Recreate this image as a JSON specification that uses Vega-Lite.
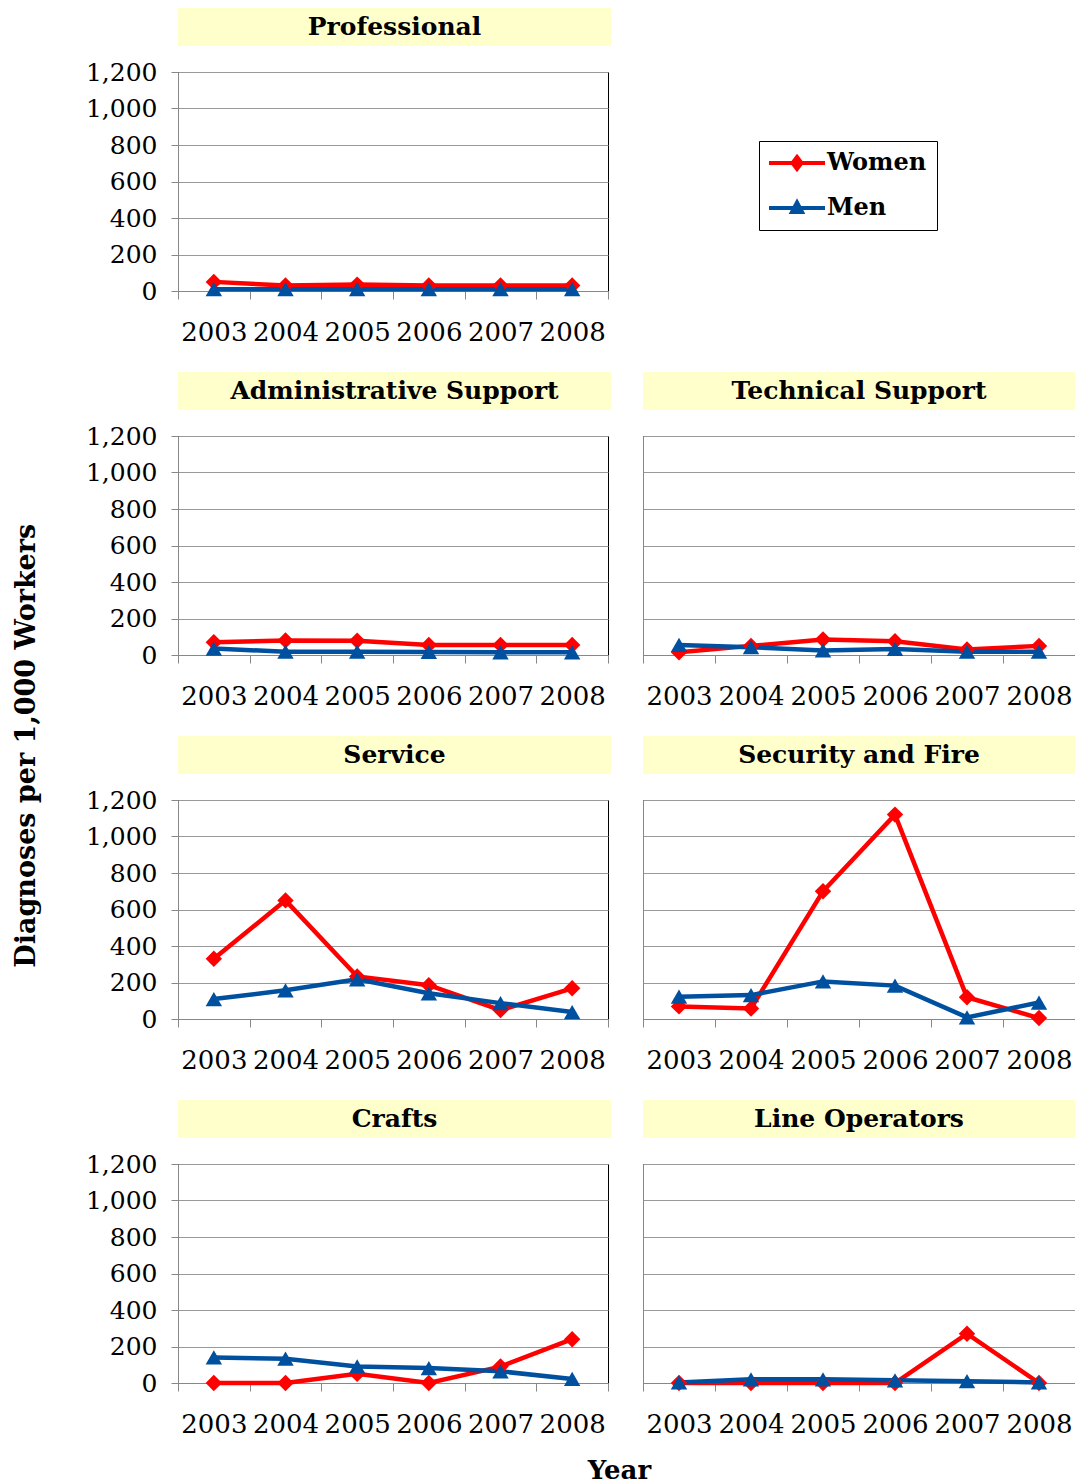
{
  "$schema": "https://vega.github.io/schema/vega-lite/v6.json",
  "padding": {"left": 12, "top": 8, "right": 0, "bottom": 0},
  "background": "white",
  "config": {
    "font": "DejaVu Serif",
    "view": {"stroke": "#000", "strokeWidth": 1},
    "axis": {"labelFont": "DejaVu Serif", "labelFontSize": 25, "labelColor": "#000", "domainColor": "#888", "tickColor": "#888", "gridColor": "#999", "title": null},
    "axisX": {"labelAngle": 0, "tickBand": "extent", "tickSize": 8, "labelPadding": 20, "labelFontSize": 26, "labelOverlap": false, "labelFlush": false},
    "axisY": {"values": [0, 200, 400, 600, 800, 1000, 1200], "format": ",.0f", "tickSize": 7, "labelPadding": 14, "grid": true},
    "title": {"font": "DejaVu Serif", "fontWeight": "bold", "fontSize": 26, "color": "#000"},
    "text": {"font": "DejaVu Serif", "fontWeight": "bold", "fontSize": 25, "baseline": "middle", "align": "center"},
    "point": {"filled": true, "size": 270, "opacity": 1},
    "line": {"strokeWidth": 4.5}
  },
  "datasets": {
    "d": [
      {"p":"Professional","s":"Women","y":"2003","v":50},{"p":"Professional","s":"Women","y":"2004","v":30},{"p":"Professional","s":"Women","y":"2005","v":35},{"p":"Professional","s":"Women","y":"2006","v":30},{"p":"Professional","s":"Women","y":"2007","v":30},{"p":"Professional","s":"Women","y":"2008","v":30},
      {"p":"Professional","s":"Men","y":"2003","v":10},{"p":"Professional","s":"Men","y":"2004","v":10},{"p":"Professional","s":"Men","y":"2005","v":10},{"p":"Professional","s":"Men","y":"2006","v":10},{"p":"Professional","s":"Men","y":"2007","v":10},{"p":"Professional","s":"Men","y":"2008","v":10},
      {"p":"Administrative Support","s":"Women","y":"2003","v":70},{"p":"Administrative Support","s":"Women","y":"2004","v":80},{"p":"Administrative Support","s":"Women","y":"2005","v":78},{"p":"Administrative Support","s":"Women","y":"2006","v":55},{"p":"Administrative Support","s":"Women","y":"2007","v":55},{"p":"Administrative Support","s":"Women","y":"2008","v":55},
      {"p":"Administrative Support","s":"Men","y":"2003","v":35},{"p":"Administrative Support","s":"Men","y":"2004","v":18},{"p":"Administrative Support","s":"Men","y":"2005","v":18},{"p":"Administrative Support","s":"Men","y":"2006","v":17},{"p":"Administrative Support","s":"Men","y":"2007","v":15},{"p":"Administrative Support","s":"Men","y":"2008","v":15},
      {"p":"Technical Support","s":"Women","y":"2003","v":15},{"p":"Technical Support","s":"Women","y":"2004","v":50},{"p":"Technical Support","s":"Women","y":"2005","v":85},{"p":"Technical Support","s":"Women","y":"2006","v":75},{"p":"Technical Support","s":"Women","y":"2007","v":30},{"p":"Technical Support","s":"Women","y":"2008","v":50},
      {"p":"Technical Support","s":"Men","y":"2003","v":55},{"p":"Technical Support","s":"Men","y":"2004","v":43},{"p":"Technical Support","s":"Men","y":"2005","v":25},{"p":"Technical Support","s":"Men","y":"2006","v":33},{"p":"Technical Support","s":"Men","y":"2007","v":18},{"p":"Technical Support","s":"Men","y":"2008","v":18},
      {"p":"Service","s":"Women","y":"2003","v":330},{"p":"Service","s":"Women","y":"2004","v":650},{"p":"Service","s":"Women","y":"2005","v":233},{"p":"Service","s":"Women","y":"2006","v":185},{"p":"Service","s":"Women","y":"2007","v":49},{"p":"Service","s":"Women","y":"2008","v":168},
      {"p":"Service","s":"Men","y":"2003","v":109},{"p":"Service","s":"Men","y":"2004","v":157},{"p":"Service","s":"Men","y":"2005","v":217},{"p":"Service","s":"Men","y":"2006","v":141},{"p":"Service","s":"Men","y":"2007","v":87},{"p":"Service","s":"Men","y":"2008","v":38},
      {"p":"Security and Fire","s":"Women","y":"2003","v":69},{"p":"Security and Fire","s":"Women","y":"2004","v":58},{"p":"Security and Fire","s":"Women","y":"2005","v":700},{"p":"Security and Fire","s":"Women","y":"2006","v":1120},{"p":"Security and Fire","s":"Women","y":"2007","v":119},{"p":"Security and Fire","s":"Women","y":"2008","v":5},
      {"p":"Security and Fire","s":"Men","y":"2003","v":122},{"p":"Security and Fire","s":"Men","y":"2004","v":131},{"p":"Security and Fire","s":"Men","y":"2005","v":206},{"p":"Security and Fire","s":"Men","y":"2006","v":183},{"p":"Security and Fire","s":"Men","y":"2007","v":9},{"p":"Security and Fire","s":"Men","y":"2008","v":90},
      {"p":"Crafts","s":"Women","y":"2003","v":0},{"p":"Crafts","s":"Women","y":"2004","v":0},{"p":"Crafts","s":"Women","y":"2005","v":50},{"p":"Crafts","s":"Women","y":"2006","v":0},{"p":"Crafts","s":"Women","y":"2007","v":90},{"p":"Crafts","s":"Women","y":"2008","v":240},
      {"p":"Crafts","s":"Men","y":"2003","v":140},{"p":"Crafts","s":"Men","y":"2004","v":133},{"p":"Crafts","s":"Men","y":"2005","v":91},{"p":"Crafts","s":"Men","y":"2006","v":82},{"p":"Crafts","s":"Men","y":"2007","v":64},{"p":"Crafts","s":"Men","y":"2008","v":22},
      {"p":"Line Operators","s":"Women","y":"2003","v":0},{"p":"Line Operators","s":"Women","y":"2004","v":0},{"p":"Line Operators","s":"Women","y":"2005","v":0},{"p":"Line Operators","s":"Women","y":"2006","v":0},{"p":"Line Operators","s":"Women","y":"2007","v":270},{"p":"Line Operators","s":"Women","y":"2008","v":0},
      {"p":"Line Operators","s":"Men","y":"2003","v":3},{"p":"Line Operators","s":"Men","y":"2004","v":20},{"p":"Line Operators","s":"Men","y":"2005","v":20},{"p":"Line Operators","s":"Men","y":"2006","v":15},{"p":"Line Operators","s":"Men","y":"2007","v":10},{"p":"Line Operators","s":"Men","y":"2008","v":3}
    ]
  },
  "title": {"text": "Diagnoses per 1,000 Workers", "orient": "left", "anchor": "middle", "offset": 44, "fontSize": 27},
  "vconcat": [
    {
      "title": {"text": "Year", "orient": "bottom", "anchor": "middle", "offset": 20, "dx": 39},
      "spacing": 26,
      "vconcat": [
        {
          "spacing": 26, "bounds": "flush",
          "vconcat": [
            {"width": 433, "height": 38, "view": {"fill": "#FFFFCC", "stroke": null}, "data": {"values": [{"t": "Professional"}]},
             "mark": "text", "encoding": {"text": {"field": "t", "type": "nominal"}}},
            {"width": 430, "height": 219, "data": {"name": "d"}, "transform": [{"filter": "datum.p == 'Professional'"}],
             "encoding": {
               "x": {"field": "y", "type": "ordinal", "scale": {"type": "band", "paddingInner": 0, "paddingOuter": 0}},
               "y": {"field": "v", "type": "quantitative", "scale": {"domain": [0, 1200], "nice": false}},
               "color": {"field": "s", "type": "nominal", "scale": {"domain": ["Women", "Men"], "range": ["#FF0000", "#0050A0"]},
                 "legend": {"orient": "none", "legendX": 581, "legendY": 133, "title": null, "padding": 10, "rowPadding": 17, "strokeColor": "#000", "fillColor": "#fff",
                   "labelFont": "DejaVu Serif", "labelFontWeight": "bold", "labelFontSize": 24, "labelColor": "#000", "symbolSize": 400, "symbolStrokeWidth": 4, "symbolOffset": 16, "labelOffset": 18,
                   "symbolType": "M-2.8,0H2.8M0,-0.6L0.45,0L0,0.6L-0.45,0Z",
                   "encoding": {"symbols": {"shape": {"value": {"expr": "datum.value === 'Men' ? 'M-2.8,0H2.8M0,-0.55L0.5,0.4L-0.5,0.4Z' : 'M-2.8,0H2.8M0,-0.6L0.45,0L0,0.6L-0.45,0Z'"}}, "strokeWidth": {"value": 4}, "opacity": {"value": 1}}}}}
             },
             "layer": [
               {"mark": "line"},
               {"transform": [{"filter": "datum.s == 'Women'"}], "mark": {"type": "point", "shape": "diamond"}},
               {"transform": [{"filter": "datum.s == 'Men'"}], "mark": {"type": "point", "shape": "triangle-up"}}
             ]}
          ]
        },
        {
          "spacing": 31,
          "hconcat": [
            {"spacing": 26, "bounds": "flush", "vconcat": [
              {"width": 433, "height": 38, "view": {"fill": "#FFFFCC", "stroke": null}, "data": {"values": [{"t": "Administrative Support"}]},
               "mark": "text", "encoding": {"text": {"field": "t", "type": "nominal"}}},
              {"width": 430, "height": 219, "data": {"name": "d"}, "transform": [{"filter": "datum.p == 'Administrative Support'"}],
               "encoding": {
                 "x": {"field": "y", "type": "ordinal", "scale": {"type": "band", "paddingInner": 0, "paddingOuter": 0}},
                 "y": {"field": "v", "type": "quantitative", "scale": {"domain": [0, 1200], "nice": false}},
                 "color": {"field": "s", "type": "nominal", "scale": {"domain": ["Women", "Men"], "range": ["#FF0000", "#0050A0"]}}
               },
               "layer": [
                 {"mark": "line"},
                 {"transform": [{"filter": "datum.s == 'Women'"}], "mark": {"type": "point", "shape": "diamond"}},
                 {"transform": [{"filter": "datum.s == 'Men'"}], "mark": {"type": "point", "shape": "triangle-up"}}
               ]}
            ]},
            {"spacing": 26, "bounds": "flush", "vconcat": [
              {"width": 432, "height": 38, "view": {"fill": "#FFFFCC", "stroke": null}, "data": {"values": [{"t": "Technical Support"}]},
               "mark": "text", "encoding": {"text": {"field": "t", "type": "nominal"}}},
              {"width": 432, "height": 219, "data": {"name": "d"}, "transform": [{"filter": "datum.p == 'Technical Support'"}],
               "encoding": {
                 "x": {"field": "y", "type": "ordinal", "scale": {"type": "band", "paddingInner": 0, "paddingOuter": 0}},
                 "y": {"field": "v", "type": "quantitative", "scale": {"domain": [0, 1200], "nice": false}, "axis": {"labels": false, "ticks": false}},
                 "color": {"field": "s", "type": "nominal", "scale": {"domain": ["Women", "Men"], "range": ["#FF0000", "#0050A0"]}}
               },
               "layer": [
                 {"mark": "line"},
                 {"transform": [{"filter": "datum.s == 'Women'"}], "mark": {"type": "point", "shape": "diamond"}},
                 {"transform": [{"filter": "datum.s == 'Men'"}], "mark": {"type": "point", "shape": "triangle-up"}}
               ]}
            ]}
          ]
        },
        {
          "spacing": 31,
          "hconcat": [
            {"spacing": 26, "bounds": "flush", "vconcat": [
              {"width": 433, "height": 38, "view": {"fill": "#FFFFCC", "stroke": null}, "data": {"values": [{"t": "Service"}]},
               "mark": "text", "encoding": {"text": {"field": "t", "type": "nominal"}}},
              {"width": 430, "height": 219, "data": {"name": "d"}, "transform": [{"filter": "datum.p == 'Service'"}],
               "encoding": {
                 "x": {"field": "y", "type": "ordinal", "scale": {"type": "band", "paddingInner": 0, "paddingOuter": 0}},
                 "y": {"field": "v", "type": "quantitative", "scale": {"domain": [0, 1200], "nice": false}},
                 "color": {"field": "s", "type": "nominal", "scale": {"domain": ["Women", "Men"], "range": ["#FF0000", "#0050A0"]}}
               },
               "layer": [
                 {"mark": "line"},
                 {"transform": [{"filter": "datum.s == 'Women'"}], "mark": {"type": "point", "shape": "diamond"}},
                 {"transform": [{"filter": "datum.s == 'Men'"}], "mark": {"type": "point", "shape": "triangle-up"}}
               ]}
            ]},
            {"spacing": 26, "bounds": "flush", "vconcat": [
              {"width": 432, "height": 38, "view": {"fill": "#FFFFCC", "stroke": null}, "data": {"values": [{"t": "Security and Fire"}]},
               "mark": "text", "encoding": {"text": {"field": "t", "type": "nominal"}}},
              {"width": 432, "height": 219, "data": {"name": "d"}, "transform": [{"filter": "datum.p == 'Security and Fire'"}],
               "encoding": {
                 "x": {"field": "y", "type": "ordinal", "scale": {"type": "band", "paddingInner": 0, "paddingOuter": 0}},
                 "y": {"field": "v", "type": "quantitative", "scale": {"domain": [0, 1200], "nice": false}, "axis": {"labels": false, "ticks": false}},
                 "color": {"field": "s", "type": "nominal", "scale": {"domain": ["Women", "Men"], "range": ["#FF0000", "#0050A0"]}}
               },
               "layer": [
                 {"mark": "line"},
                 {"transform": [{"filter": "datum.s == 'Women'"}], "mark": {"type": "point", "shape": "diamond"}},
                 {"transform": [{"filter": "datum.s == 'Men'"}], "mark": {"type": "point", "shape": "triangle-up"}}
               ]}
            ]}
          ]
        },
        {
          "spacing": 31,
          "hconcat": [
            {"spacing": 26, "bounds": "flush", "vconcat": [
              {"width": 433, "height": 38, "view": {"fill": "#FFFFCC", "stroke": null}, "data": {"values": [{"t": "Crafts"}]},
               "mark": "text", "encoding": {"text": {"field": "t", "type": "nominal"}}},
              {"width": 430, "height": 219, "data": {"name": "d"}, "transform": [{"filter": "datum.p == 'Crafts'"}],
               "encoding": {
                 "x": {"field": "y", "type": "ordinal", "scale": {"type": "band", "paddingInner": 0, "paddingOuter": 0}},
                 "y": {"field": "v", "type": "quantitative", "scale": {"domain": [0, 1200], "nice": false}},
                 "color": {"field": "s", "type": "nominal", "scale": {"domain": ["Women", "Men"], "range": ["#FF0000", "#0050A0"]}}
               },
               "layer": [
                 {"mark": "line"},
                 {"transform": [{"filter": "datum.s == 'Women'"}], "mark": {"type": "point", "shape": "diamond"}},
                 {"transform": [{"filter": "datum.s == 'Men'"}], "mark": {"type": "point", "shape": "triangle-up"}}
               ]}
            ]},
            {"spacing": 26, "bounds": "flush", "vconcat": [
              {"width": 432, "height": 38, "view": {"fill": "#FFFFCC", "stroke": null}, "data": {"values": [{"t": "Line Operators"}]},
               "mark": "text", "encoding": {"text": {"field": "t", "type": "nominal"}}},
              {"width": 432, "height": 219, "data": {"name": "d"}, "transform": [{"filter": "datum.p == 'Line Operators'"}],
               "encoding": {
                 "x": {"field": "y", "type": "ordinal", "scale": {"type": "band", "paddingInner": 0, "paddingOuter": 0}},
                 "y": {"field": "v", "type": "quantitative", "scale": {"domain": [0, 1200], "nice": false}, "axis": {"labels": false, "ticks": false}},
                 "color": {"field": "s", "type": "nominal", "scale": {"domain": ["Women", "Men"], "range": ["#FF0000", "#0050A0"]}}
               },
               "layer": [
                 {"mark": "line"},
                 {"transform": [{"filter": "datum.s == 'Women'"}], "mark": {"type": "point", "shape": "diamond"}},
                 {"transform": [{"filter": "datum.s == 'Men'"}], "mark": {"type": "point", "shape": "triangle-up"}}
               ]}
            ]}
          ]
        }
      ]
    }
  ]
}
